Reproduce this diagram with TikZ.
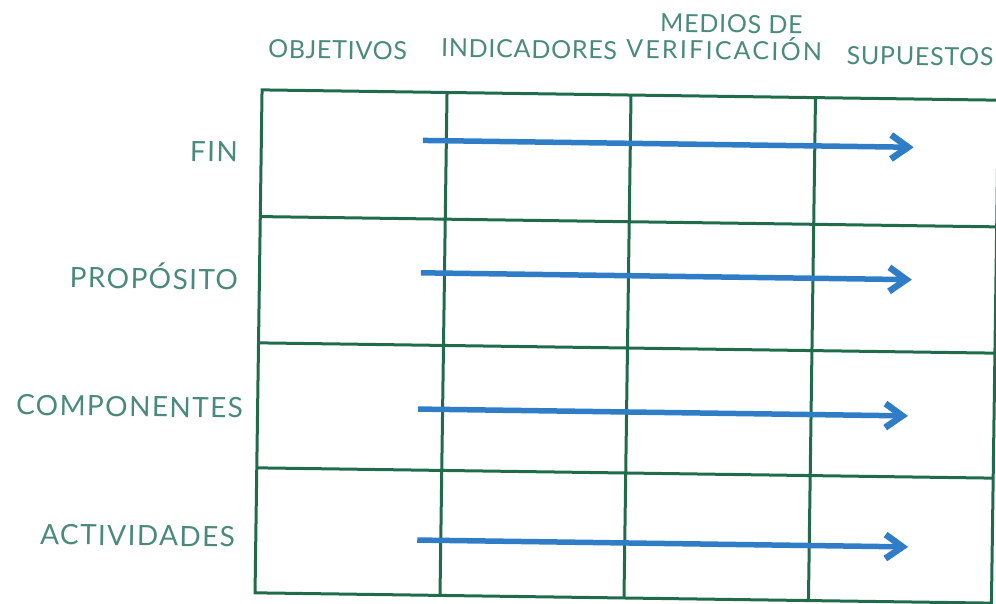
\documentclass[tikz,border=0pt]{standalone}
\usepackage{fontspec}
\newfontfamily\headfont{Lato}[LetterSpace=3]
\newfontfamily\levelfont{Lato}[LetterSpace=5]
\usetikzlibrary{arrows.meta}
\definecolor{gridgreen}{HTML}{1F6B4B}
\definecolor{labelteal}{HTML}{4A8A7C}
\definecolor{flowblue}{HTML}{2F7DC6}
\tikzset{
  head/.style={text=labelteal, anchor=base, inner sep=0pt, font=\headfont\fontsize{25}{25}\selectfont},
  level/.style={text=labelteal, anchor=base east, inner sep=0pt, font=\levelfont\fontsize{28}{28}\selectfont},
  cell/.style={draw=gridgreen, line width=3pt},
  flow/.style={draw=flowblue, line width=5.5pt, -{Straight Barb[length=17pt, width=24pt, line width=6.5pt]}}
}

\begin{document}
\begin{tikzpicture}[x=1pt, y=-1pt]
\useasboundingbox (0,0) rectangle (996,603);
\begin{scope}[rotate around={-0.8:(627,346)}, transform shape]
% column heads
\node[head] (objetivos) at (333.5,63) {OBJETIVOS};
\node[head] (indicadores) at (525,59.4) {INDICADORES};
\node[head] (medios) at (727,31.5) {MEDIOS DE};
\node[head] (verificacion) at (720,58) {\addfontfeature{LetterSpace=9}VERIFICACIÓN};
\node[head] (supuestos) at (916,61) {SUPUESTOS};
% row heads
\node[level] (fin) at (235.4,167.4) {FIN};
\node[level] (proposito) at (237.2,295.4) {PROPÓSITO};
\node[level] (componentes) at (244,423.4) {COMPONENTES};
\node[level] (actividades) at (237.8,552.4) {ACTIVIDADES};
% grid
\draw[cell] (258.5,95) rectangle (995,598);
\draw[cell] (443.5,95) -- (443.5,598)
 (627.5,95) -- (627.5,598)
 (812,95) -- (812,598)
 (258.5,221.7) -- (995,221.7)
 (258.5,348) -- (995,348)
 (258.5,473) -- (995,473);
% arrows
\coordinate (fin-from) at (420,143.3);
\coordinate (fin-to) at (911,143.3);
\coordinate (proposito-from) at (420,275.7);
\coordinate (proposito-to) at (911,275.7);
\coordinate (componentes-from) at (419,412);
\coordinate (componentes-to) at (909,412);
\coordinate (actividades-from) at (420,543);
\coordinate (actividades-to) at (911,543);
\draw[flow] (fin-from) -- (fin-to);
\draw[flow] (proposito-from) -- (proposito-to);
\draw[flow] (componentes-from) -- (componentes-to);
\draw[flow] (actividades-from) -- (actividades-to);
\end{scope}
\end{tikzpicture}
\end{document}
